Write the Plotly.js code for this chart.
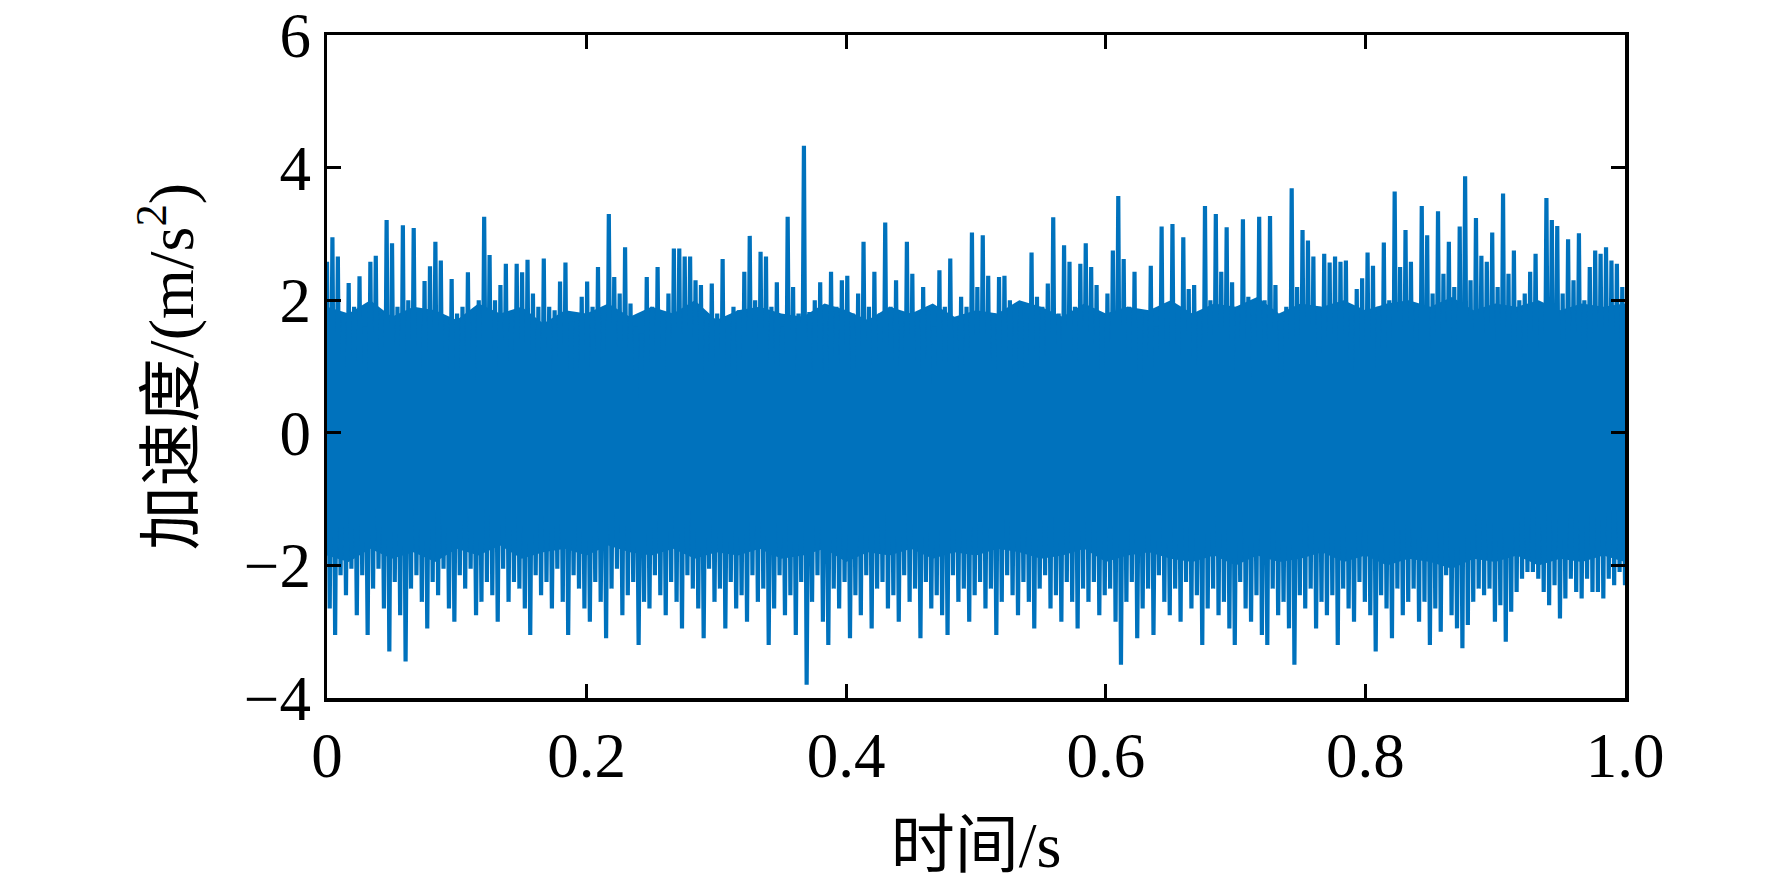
<!DOCTYPE html>
<html>
<head>
<meta charset="utf-8">
<script src="https://cdn.plot.ly/plotly-3.0.1.min.js"></script>
<style>html,body{margin:0;padding:0;background:#fff;}#chart{width:1772px;height:891px;}</style>
</head>
<body>
<div id="chart"></div>
<script>
// Upper excursions (positive half-cycles), 240 values over 0–1 s
const upperPeaks = [
  2.58, 2.95, 2.66, 1.7, 2.26, 1.9, 2.36, 1.6, 2.58, 2.67, 1.8, 3.21, 2.86, 1.9, 3.13, 2.0, 3.09, 1.7, 2.29, 2.51,
  2.88, 2.6, 1.7, 2.32, 1.8, 1.9, 2.42, 1.7, 2.0, 3.26, 2.68, 2.0, 2.23, 2.55, 1.8, 2.55, 2.42, 2.61, 2.1, 1.9,
  2.63, 1.9, 1.85, 2.28, 2.57, 1.7, 1.8, 2.05, 2.28, 1.9, 2.5, 1.8, 3.3, 2.35, 2.1, 2.8, 1.95, 1.6, 1.5, 2.35,
  1.9, 2.5, 1.8, 2.1, 2.78, 2.78, 2.66, 2.66, 2.3, 2.23, 1.7, 2.25, 1.8, 2.62, 1.65, 1.9, 1.85, 2.43, 2.97, 2.0,
  2.73, 2.66, 1.9, 2.27, 1.6, 3.26, 2.2, 1.8, 4.33, 1.82, 2.0, 2.27, 1.7, 2.43, 1.9, 2.3, 2.37, 1.8, 2.1, 2.88,
  1.9, 2.43, 1.8, 3.17, 1.9, 2.3, 1.7, 2.88, 2.4, 1.8, 2.2, 1.85, 1.6, 2.45, 1.9, 2.63, 1.7, 2.05, 1.9, 3.02,
  2.2, 2.98, 2.37, 1.8, 2.35, 2.37, 2.0, 1.7, 1.97, 1.8, 2.72, 2.05, 1.9, 2.25, 3.25, 1.8, 2.83, 2.58, 1.9, 2.55,
  2.86, 2.5, 2.23, 1.8, 2.1, 2.75, 3.57, 2.62, 1.9, 2.43, 1.7, 1.8, 2.52, 1.6, 3.11, 1.9, 3.15, 1.8, 2.95, 2.17,
  2.23, 1.8, 3.42, 2.0, 3.3, 2.43, 3.1, 2.27, 1.9, 3.22, 2.05, 1.8, 3.26, 2.0, 3.27, 2.23, 1.78, 1.9, 3.69, 2.2,
  3.06, 2.9, 2.66, 1.9, 2.7, 2.57, 2.66, 2.58, 2.6, 1.8, 2.17, 2.33, 2.72, 2.52, 1.9, 2.87, 2.0, 3.64, 2.5, 3.06,
  2.58, 1.9, 3.42, 2.98, 2.1, 3.34, 2.4, 2.88, 2.2, 3.11, 3.87, 2.3, 3.24, 2.67, 2.58, 3.02, 2.2, 3.61, 2.4, 2.75,
  2.0, 2.1, 2.43, 2.7, 1.9, 3.54, 3.21, 3.12, 2.1, 2.92, 2.3, 3.01, 2.0, 2.5, 2.75, 2.7, 2.8, 2.6, 2.55, 2.2
];
// Lower excursions (negative half-cycles), 240 values over 0–1 s
const lowerPeaks = [
  -2.65, -3.05, -2.15, -2.45, -2.05, -2.75, -2.15, -3.05, -2.35, -2.05, -2.65, -3.3, -2.25, -2.75, -3.45, -2.35, -2.15, -2.55, -2.95, -2.25,
  -2.45, -2.05, -2.65, -2.85, -2.15, -2.35, -2.05, -2.75, -2.55, -2.25, -2.45, -2.85, -2.05, -2.55, -2.25, -2.35, -2.65, -3.05, -2.15, -2.45,
  -2.25, -2.65, -2.05, -2.55, -3.05, -2.15, -2.35, -2.65, -2.85, -2.25, -2.55, -3.1, -2.35, -2.05, -2.75, -2.45, -2.25, -3.2, -2.55, -2.65,
  -2.15, -2.45, -2.75, -2.25, -2.55, -2.95, -2.15, -2.35, -2.65, -3.1, -2.05, -2.55, -2.35, -2.95, -2.25, -2.65, -2.45, -2.85, -2.15, -2.55,
  -2.35, -3.2, -2.65, -2.15, -2.75, -2.45, -3.05, -2.25, -3.8, -2.55, -2.15, -2.85, -3.2, -2.35, -2.65, -2.25, -3.1, -2.45, -2.75, -2.15,
  -2.95, -2.35, -2.25, -2.65, -2.45, -2.85, -2.15, -2.55, -2.35, -3.1, -2.25, -2.65, -2.45, -2.75, -3.05, -2.15, -2.55, -2.35, -2.85, -2.45,
  -2.25, -2.65, -2.35, -3.05, -2.55, -2.15, -2.45, -2.75, -2.25, -2.55, -2.95, -2.35, -2.15, -2.65, -2.45, -2.85, -2.25, -2.55, -2.95, -2.35,
  -2.55, -2.25, -2.75, -2.45, -2.35, -2.85, -3.5, -2.55, -2.25, -3.1, -2.65, -2.35, -3.05, -2.15, -2.55, -2.75, -2.35, -2.85, -2.25, -2.65,
  -2.45, -3.2, -2.65, -2.35, -2.75, -2.55, -2.95, -3.2, -2.25, -2.65, -2.85, -2.45, -3.05, -3.2, -2.35, -2.75, -2.55, -2.95, -3.5, -2.45,
  -2.65, -2.35, -2.95, -2.55, -2.75, -2.45, -3.2, -2.35, -2.65, -2.85, -2.25, -2.55, -2.75, -3.3, -2.45, -2.65, -3.1, -2.35, -2.75, -2.55,
  -2.35, -2.85, -2.55, -3.2, -2.65, -3.0, -2.15, -2.75, -2.95, -3.25, -2.9, -2.55, -2.35, -2.45, -2.35, -2.85, -2.6, -3.15, -2.7, -2.4,
  -2.2, -2.1, -2.1, -2.2, -2.4, -2.6, -2.3, -2.8, -2.5, -2.2, -2.4, -2.5, -2.2, -2.4, -2.4, -2.5, -2.2, -2.3, -2.1, -2.3
];
// Edges of the solid (dense) core of the trace, read every 1/60 s
const coreUpper = [
  1.9, 1.8, 2.0, 1.75, 1.9, 1.85, 1.7, 1.95, 1.8, 1.9, 1.65, 1.85, 1.8, 1.95, 1.75, 1.9, 1.8, 2.0, 1.7, 1.85,
  1.9, 1.8, 1.75, 1.95, 1.85, 1.7, 1.9, 1.8, 1.95, 1.75, 1.85, 1.8, 2.0, 1.9, 1.75, 1.95, 1.8, 1.9, 1.85, 2.0,
  1.8, 1.95, 1.9, 2.05, 1.8, 1.95, 1.9, 2.0, 1.85, 1.95, 2.0, 1.9, 2.05, 1.85, 1.95, 1.9, 2.0, 1.85, 1.95, 1.9, 1.95
];
const coreLower = [
  -1.85, -1.95, -1.75, -1.9, -1.8, -1.95, -1.75, -1.85, -1.7, -1.9, -1.8, -1.75, -1.85, -1.7, -1.8, -1.85, -1.75, -1.9, -1.8, -1.85,
  -1.75, -1.9, -1.85, -1.75, -1.95, -1.8, -1.85, -1.75, -1.9, -1.8, -1.85, -1.75, -1.8, -1.9, -1.85, -1.75, -1.95, -1.85, -1.8, -1.9,
  -1.95, -1.85, -2.0, -1.85, -1.95, -1.9, -1.8, -1.95, -1.85, -2.0, -1.9, -1.95, -2.05, -1.9, -1.95, -1.85, -2.0, -1.9, -1.95, -1.85, -1.95
];

const xTickVals = [0, 0.2, 0.4, 0.6, 0.8, 1.0];
const xTickText = ["0", "0.2", "0.4", "0.6", "0.8", "1.0"];
const yTickVals = [-4, -2, 0, 2, 4, 6];
const yTickText = ["\u22124", "\u22122", "0", "2", "4", "6"];
const duration = 1.0; // s

// Interleave half-cycles into one sampled signal
const accel = [];
for (let i = 0; i < upperPeaks.length; i++) {
  accel.push(upperPeaks[i]);
  accel.push(lowerPeaks[i]);
}
const nSamples = accel.length;
const time = accel.map((_, i) => duration * i / (nSamples - 1));
const coreTime = coreUpper.map((_, i) => duration * i / (coreUpper.length - 1));

const blue = '#0072BD';
const fontFam = '"Liberation Serif", "Times New Roman", "Noto Sans CJK SC", serif';

const coreTrace = {
  x: coreTime.concat(coreTime.slice().reverse()),
  y: coreUpper.concat(coreLower.slice().reverse()),
  type: 'scatter', mode: 'lines', fill: 'toself', fillcolor: blue,
  line: {color: blue, width: 0}, hoverinfo: 'skip'
};
const trace = {
  x: time, y: accel, type: 'scatter', mode: 'lines',
  line: {color: blue, width: 4.2},
  hoverinfo: 'skip'
};
const axisCommon = {
  showline: true, linecolor: '#000', linewidth: 3.5, mirror: 'ticks',
  ticks: 'inside', ticklen: 14, tickwidth: 3, tickcolor: '#000',
  showgrid: false, zeroline: false,
  tickfont: {family: fontFam, size: 63, color: '#000'}
};
const layout = {
  width: 1772, height: 891,
  margin: {l: 327, r: 147, t: 35, b: 193},
  paper_bgcolor: '#fff', plot_bgcolor: '#fff',
  showlegend: false,
  xaxis: Object.assign({}, axisCommon, {
    range: [0, 1], tickmode: 'array', tickvals: xTickVals, ticktext: xTickText,
    title: {text: '时间/s', font: {family: fontFam, size: 64, color: '#000'}, standoff: 33}
  }),
  yaxis: Object.assign({}, axisCommon, {
    range: [-4, 6], tickmode: 'array', tickvals: yTickVals, ticktext: yTickText,
    title: {text: '加速度/(m/s<sup>2</sup>)', font: {family: fontFam, size: 64, color: '#000'}, standoff: 30}
  })
};
Plotly.newPlot('chart', [coreTrace, trace], layout, {staticPlot: true, displayModeBar: false});
</script>
</body>
</html>
